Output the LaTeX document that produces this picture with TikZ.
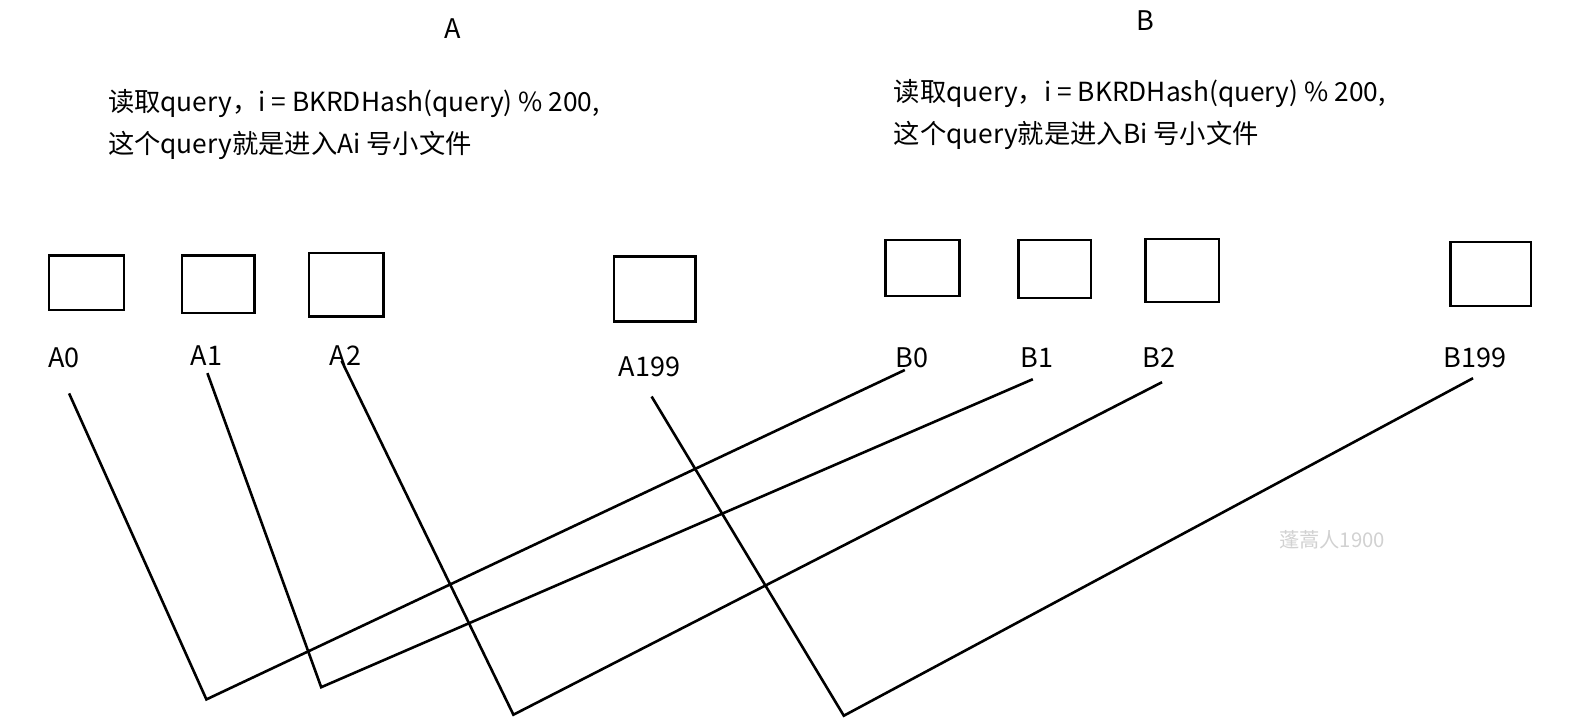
\documentclass[tikz,border=0pt]{standalone}
\usepackage{fontspec}
\setmainfont{Noto Sans CJK SC}
\begin{document}
\begin{tikzpicture}[x=1pt,y=-1pt,
  fbox/.style={draw=black,line width=2.6pt},
  lbl/.style={font=\fontsize{27}{30}\selectfont,inner sep=0pt},
  desc/.style={font=\fontsize{26.3}{30}\selectfont,inner sep=0pt,anchor=west},
  conn/.style={draw=black,line width=2.6pt,line join=miter}]
\useasboundingbox (0,0) rectangle (1594,718);
% headings
\node[lbl] (hA) at (453,28.5) {A};
\node[lbl] (hB) at (1145,20.3) {B};
% descriptions
\node[desc] (tA1) at (107.8,103.7) {读取query，i = BKRDHash(query) \% 200,};
\node[desc] (tA2) at (107.8,145.4) {这个query就是进入Ai 号小文件};
\node[desc] (tB1) at (893.6,93.5) {读取query，i = BKRDHash(query) \% 200,};
\node[desc] (tB2) at (893.6,135.2) {这个query就是进入Bi 号小文件};
% boxes
\draw[fbox] (48.8,255.2) rectangle (124,310);
\draw[fbox] (182,255.2) rectangle (254.2,313.1);
\draw[fbox] (309,253.1) rectangle (383.3,316.2);
\draw[fbox] (614,256.2) rectangle (695.4,321.3);
\draw[fbox] (885.5,240) rectangle (959.7,295.8);
\draw[fbox] (1018.6,240) rectangle (1090.8,297.9);
\draw[fbox] (1145.7,239) rectangle (1218.9,301.9);
\draw[fbox] (1450.7,242) rectangle (1531,306);
% labels
\node[lbl] (la0) at (64,357.8) {A0};
\node[lbl] (la1) at (206.4,355.8) {A1};
\node[lbl] (la2) at (345.6,355.8) {A2};
\node[lbl] (la199) at (649.6,367) {A199};
\node[lbl] (lb0) at (912,357.8) {B0};
\node[lbl] (lb1) at (1037,357.8) {B1};
\node[lbl] (lb2) at (1159,357.8) {B2};
\node[lbl] (lb199) at (1475,357.8) {B199};
% connector points
\coordinate (s0) at (69.1,393.4);
\coordinate (c0) at (206.4,699.4);
\coordinate (e0) at (904.8,370);
\coordinate (s1) at (207.4,373.1);
\coordinate (c1) at (321.2,687.2);
\coordinate (e1) at (1032.8,379.2);
\coordinate (s2) at (341.6,360.9);
\coordinate (c2) at (513.4,714.7);
\coordinate (e2) at (1162,382.2);
\coordinate (s3) at (651.6,396.5);
\coordinate (c3) at (843.8,715.7);
\coordinate (e3) at (1473,378.2);
\draw[conn] (s0) -- (c0) -- (e0);
\draw[conn] (s1) -- (c1) -- (e1);
\draw[conn] (s2) -- (c2) -- (e2);
\draw[conn] (s3) -- (c3) -- (e3);
% watermark
\node[font=\fontsize{20.3}{22}\selectfont,text=black!18,inner sep=0pt] (wm) at (1332,540) {蓬蒿人1900};
\end{tikzpicture}
\end{document}
